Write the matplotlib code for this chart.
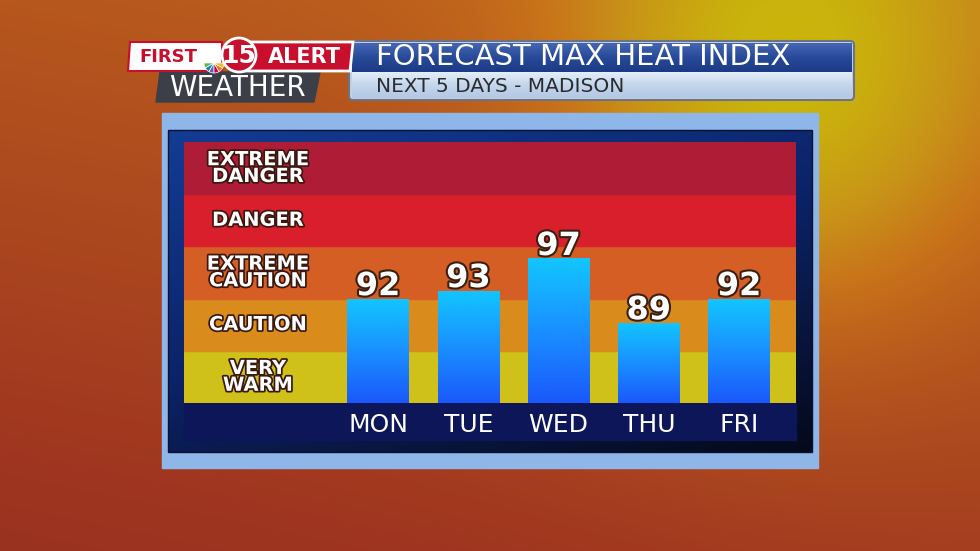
import numpy as np
import matplotlib.pyplot as plt
from matplotlib.patches import Polygon, Rectangle, FancyBboxPatch, Circle, Wedge
from matplotlib.colors import LinearSegmentedColormap
import matplotlib.patheffects as pe

days = ["MON", "TUE", "WED", "THU", "FRI"]
heat_index = [92, 93, 97, 89, 92]
band_names = ["VERY\nWARM", "CAUTION", "EXTREME\nCAUTION", "DANGER", "EXTREME\nDANGER"]
band_edges = [79, 85.5, 92, 98.5, 105, 111.5]
band_colors = ["#cfc01a", "#d98b1c", "#d45e24", "#d81f2b", "#ae1d35"]
title = "FORECAST MAX HEAT INDEX"
subtitle = "NEXT 5 DAYS - MADISON"

W, H = 980, 551
fig = plt.figure(figsize=(9.8, 5.51), dpi=100)

# full-figure axes in pixel coords for the background and header
bg = fig.add_axes([0, 0, 1, 1])
bg.axis("off")

yy, xx = np.mgrid[0:1:300j, 0:1:540j]
s = 0.47 + 0.1 * xx - 0.27 * yy + 0.5 * np.exp(-((xx - 0.8) ** 2 / 0.05 + (yy - 0.15) ** 2 / 0.2))
s = np.clip(s, 0, 1)
bg_cmap = LinearSegmentedColormap.from_list(
    "bg", [(0, "#842420"), (0.25, "#a03620"), (0.45, "#b4541e"), (0.65, "#c8721a"),
           (0.8, "#c89218"), (1, "#cab40c")])
bg.imshow(s, cmap=bg_cmap, vmin=0, vmax=1, extent=(0, W, H, 0), aspect="auto", zorder=0)

# panel frame
bg.add_patch(Rectangle((162, 113), 656, 355, color="#8fb6e8", zorder=1))
panel = Rectangle((168, 130), 644, 322, facecolor="none", edgecolor="#0a1030", lw=1, zorder=3)
bg.add_patch(panel)
diag = np.add.outer(np.linspace(0, 1, 100), np.linspace(0, 0.6, 100))
navy_cmap = LinearSegmentedColormap.from_list("navy", ["#133c94", "#0b2266", "#050a1a"])
bg.imshow(diag, cmap=navy_cmap, extent=(168, 812, 452, 130), aspect="auto", zorder=2)
bg.add_patch(Rectangle((184, 403), 612, 37, color="#0c1658", zorder=3))

# header: title bar
bg.add_patch(FancyBboxPatch((349, 41), 505, 59, boxstyle="round,pad=0,rounding_size=4",
                            facecolor="#c8d0dc", edgecolor="#6a7488", lw=1.5, zorder=4))
tb = np.linspace(0, 1, 50).reshape(-1, 1)
title_cmap = LinearSegmentedColormap.from_list("tb", ["#4466b4", "#284a98", "#1c3a86"])
bg.imshow(tb, cmap=title_cmap, extent=(352, 851, 72, 43), aspect="auto", zorder=5)
sub_cmap = LinearSegmentedColormap.from_list("sb", ["#e4eef8", "#c4d6ec", "#b4c8e4"])
bg.imshow(tb, cmap=sub_cmap, extent=(352, 851, 98, 72), aspect="auto", zorder=5)
bg.text(376, 57, title, fontsize=21, color="white", va="center", ha="left", zorder=6)
bg.text(376, 87, subtitle, fontsize=14.5, color="#2a2c30", va="center", ha="left", zorder=6)

# header: logo
bg.add_patch(Polygon([(160, 72), (320, 72), (314, 102), (156, 102)], closed=True,
                     color="#3c3f48", zorder=4))
bg.text(237, 88, "WEATHER", fontsize=20, color="white", ha="center", va="center", zorder=6)
bg.add_patch(Polygon([(240, 42), (353, 42), (350, 71), (240, 71)], closed=True,
                     facecolor="#c8102e", edgecolor="white", lw=2, zorder=5))
bg.add_patch(Polygon([(130, 42), (222, 42), (222, 71), (128, 71)], closed=True,
                     facecolor="white", edgecolor="#c8102e", lw=1.5, zorder=5))
bg.text(168, 57, "FIRST", fontsize=13, fontweight="bold", color="#c8102e",
        ha="center", va="center", zorder=7)
bg.text(304, 57, "ALERT", fontsize=15, fontweight="bold", color="white",
        ha="center", va="center", zorder=7)
peacock = ["#6cb33f", "#0089cf", "#645faa", "#cc004c", "#f37021", "#fcb711"]
for i, c in enumerate(peacock):
    bg.add_patch(Wedge((214, 63), 10, 180 - (i + 1) * 30, 180 - i * 30, color=c,
                       ec="white", lw=0.5, zorder=6))
bg.add_patch(Circle((239, 55), 17, facecolor="#c8102e", edgecolor="white", lw=2, zorder=7))
bg.text(239, 56, "15", fontsize=18, fontweight="bold", color="white",
        ha="center", va="center", zorder=8)

bg.set_xlim(0, W)
bg.set_ylim(H, 0)

# chart axes
ax = fig.add_axes([184 / W, 1 - 403 / H, 612 / W, 261 / H])
ax.axis("off")
y0 = band_edges[0]
x = np.arange(len(days))
bar_w = 0.68

for lo, hi, c in zip(band_edges[:-1], band_edges[1:], band_colors):
    ax.axhspan(lo, hi, color=c, zorder=0)

label_x = -1.33
for lo, hi, name in zip(band_edges[:-1], band_edges[1:], band_names):
    ax.text(label_x, (lo + hi) / 2, name, fontsize=14, fontweight="bold", color="white",
            ha="center", va="center", linespacing=0.85, zorder=5,
            path_effects=[pe.withStroke(linewidth=2.5, foreground="#3a1810")])

bar_cmap = LinearSegmentedColormap.from_list("bar", ["#12c6ff", "#1a90ff", "#1a58fb"])
grad = np.linspace(0, 1, 256).reshape(-1, 1)
bars = ax.bar(x, [v - y0 for v in heat_index], bottom=y0, width=bar_w, color="#1a8cff", zorder=2)
for xi, v, b in zip(x, heat_index, bars):
    g = ax.imshow(grad, cmap=bar_cmap, extent=(xi - bar_w / 2, xi + bar_w / 2, y0, v),
                  aspect="auto", zorder=3)
    g.set_clip_path(b)
    ax.annotate(str(v), (xi, v), xytext=(0, 2.5), textcoords="offset points",
                ha="center", va="baseline", fontsize=23, fontweight="bold", color="white", zorder=6,
                path_effects=[pe.withStroke(linewidth=3, foreground="#3a2010")])

for xi, d in zip(x, days):
    ax.text(xi, -0.085, d, transform=ax.get_xaxis_transform(), fontsize=18, color="white",
            ha="center", va="center")

ax.set_xlim(-2.15, -2.15 + 612 / 90.25)
ax.set_ylim(band_edges[0], band_edges[-1])

fig.savefig("out.png", dpi=100)
